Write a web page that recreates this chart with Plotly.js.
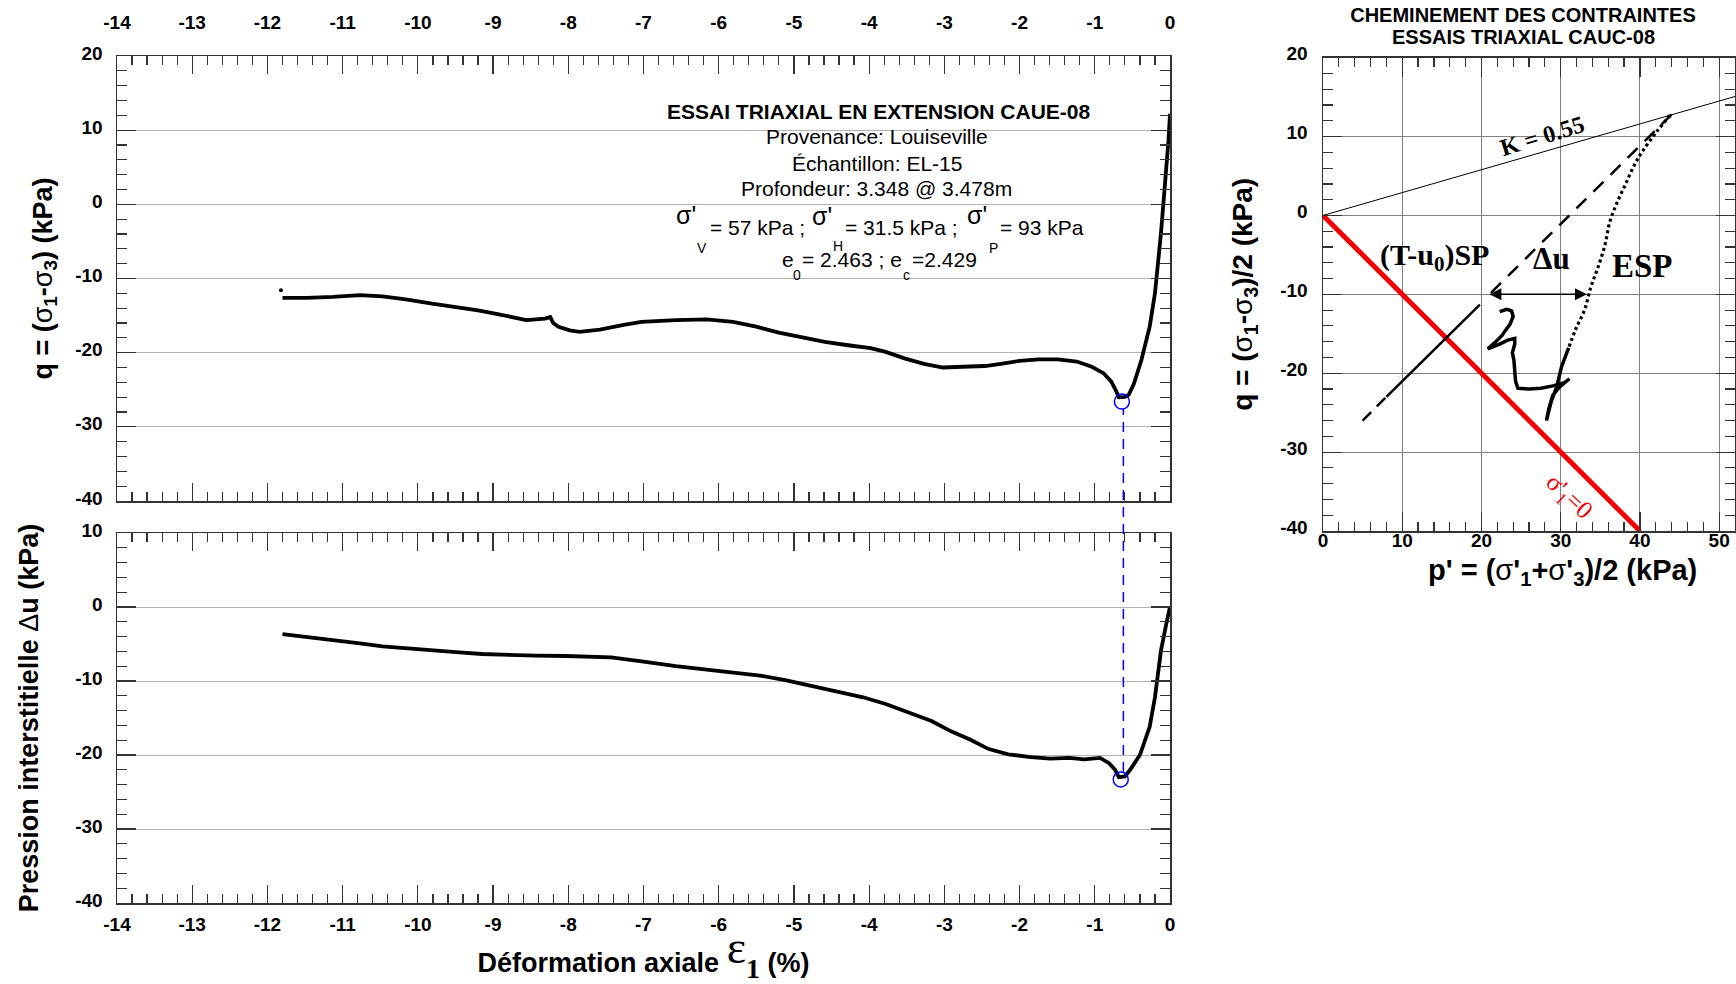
<!DOCTYPE html>
<html><head><meta charset="utf-8">
<script src="https://cdn.plot.ly/plotly-3.0.1.min.js"></script>
<style>html,body{margin:0;padding:0;background:#fff;} #chart{width:1736px;height:984px;}</style>
</head><body><div id="chart"></div>
<script>
// ---------- data ----------
const strainQ = [-11.80,-11.48,-11.13,-10.77,-10.47,-10.16,-9.81,-9.45,-9.20,-8.94,-8.74,-8.56,-8.43,-8.31,-8.24,-8.20,-8.13,-7.98,-7.85,-7.70,-7.58,-7.28,-7.03,-6.57,-6.16,-5.81,-5.50,-5.20,-4.89,-4.59,-4.28,-3.98,-3.78,-3.52,-3.27,-3.02,-2.76,-2.46,-2.25,-2.00,-1.75,-1.49,-1.24,-1.04,-0.88,-0.78,-0.71,-0.68,-0.60,-0.55,-0.48,-0.38,-0.27,-0.20,-0.12,-0.07,-0.02,0.00];
const qValues = [-12.6,-12.6,-12.47,-12.25,-12.4,-12.8,-13.4,-13.9,-14.3,-14.8,-15.26,-15.6,-15.5,-15.4,-15.2,-16.0,-16.5,-17.0,-17.2,-17.1,-16.9,-16.3,-15.84,-15.6,-15.5,-15.84,-16.5,-17.3,-17.96,-18.54,-19.0,-19.4,-19.9,-20.8,-21.5,-22.0,-21.9,-21.8,-21.5,-21.1,-20.9,-20.9,-21.2,-21.9,-22.8,-23.9,-25.3,-26.0,-25.96,-25.7,-24.2,-21.0,-16.5,-12.0,-3.9,1.9,8.65,12.2];
const dotStrain = [-11.82];
const dotQ = [-11.6];

const strainDu = [-11.80,-11.48,-11.13,-10.77,-10.47,-10.16,-9.81,-9.45,-9.15,-8.79,-8.43,-8.03,-7.58,-7.43,-7.00,-6.57,-6.16,-5.81,-5.45,-5.10,-4.79,-4.49,-4.08,-3.78,-3.47,-3.17,-2.91,-2.66,-2.41,-2.15,-1.85,-1.59,-1.34,-1.14,-0.93,-0.81,-0.73,-0.68,-0.60,-0.53,-0.40,-0.27,-0.20,-0.12,-0.05,0.00];
const duValues = [-3.67,-4.03,-4.47,-4.92,-5.32,-5.6,-5.9,-6.13,-6.35,-6.49,-6.58,-6.62,-6.7,-6.8,-7.38,-8.0,-8.46,-8.81,-9.26,-9.93,-10.6,-11.3,-12.2,-13.1,-14.2,-15.4,-16.8,-17.9,-19.2,-19.9,-20.3,-20.5,-20.4,-20.6,-20.4,-21.1,-22.0,-23.0,-22.9,-22.0,-20.0,-16.2,-12.2,-5.9,-2.3,0.0];

const peakStrainQ = [-0.64];
const peakQ = [-26.6];
const peakStrainDu = [-0.655];
const peakDu = [-23.3];
const guideStrain = [-0.62];

// stress path (p', q)
const espDotP = [43.8,42.1,40.3,39.3,38.2,37.1,36.2,35.6,34.7,33.8,33.0,31.9,31.0];
const espDotQ = [12.7,10.6,8.1,6.4,4.0,1.6,-0.8,-3.7,-6.6,-9.1,-12.0,-14.4,-16.8];
const espP = [31.0,30.1,29.5,28.8,28.2,28.5,29.0,29.8,31.1,30.5,29.0,27.5,26.0,24.6,24.3,24.2,24.1,23.9,24.2,24.2,23.3,22.3,20.8,21.8,22.6,23.0,23.6,24.0,23.8,23.2,22.3];
const espQ = [-16.8,-19.2,-21.7,-23.6,-26.0,-24.5,-22.8,-21.8,-20.7,-21.2,-21.6,-21.9,-22.0,-21.9,-21.0,-19.6,-18.4,-17.4,-16.3,-15.6,-15.8,-16.3,-16.9,-16.0,-15.2,-14.6,-13.8,-12.8,-12.1,-11.9,-12.2];
const tspDashP1 = [5.0, 8.0];
const tspDashQ1 = [-26.0, -23.0];
const tspSolidP = [8.0, 19.8];
const tspSolidQ = [-23.0, -11.3];
const tspDashP2 = [21.2, 44.0];
const tspDashQ2 = [-9.8, 12.8];
const k0P = [0, 52.4];
const k0Q = [0, 15.2];
const zeroP = [0, 40];
const zeroQ = [0, -40];
const duArrowP = [21.0, 33.5];
const duArrowQ = [-10, -10];

// ticks
const strainTicks = [-14,-13,-12,-11,-10,-9,-8,-7,-6,-5,-4,-3,-2,-1,0];
const strainTickText = ['-14','-13','-12','-11','-10','-9','-8','-7','-6','-5','-4','-3','-2','-1','0'];
const qTicks = [-40,-30,-20,-10,0,10,20];
const qTickText = ['-40','-30','-20','-10','0','10','20'];
const duTicks = [-40,-30,-20,-10,0,10];
const duTickText = ['-40','-30','-20','-10','0','10'];
const pTicks = [0,10,20,30,40,50];
const pTickText = ['0','10','20','30','40','50'];

// ---------- layout helpers ----------
const W = 1736, H = 984;
const SANS = 'Liberation Sans, Arial, Helvetica, sans-serif';
const SERIF = 'Liberation Serif, Times New Roman, serif';
const tickFont = {family: SANS, size: 19, color: '#000', weight: 'bold'};
const titleFont = {family: SANS, size: 27, color: '#000', weight: 'bold'};
const titleFontR = {family: SANS, size: 28, color: '#000', weight: 'bold'};
const AX = '#333';

const domLeftX = [117/W, 1170/W];
const domTopY = [1-501/H, 1-56/H];
const domBotY = [1-903/H, 1-533/H];
const domRightX = [1323/W, 1735/W];
const domRightY = [1-531/H, 1-57.7/H];

function baseAxis(extra) {
  return Object.assign({
    showline: true, linecolor: AX, linewidth: 1.5, mirror: 'allticks',
    ticks: 'inside', tickcolor: AX, tickwidth: 1.2,
    zeroline: false, tickfont: tickFont, tickmode: 'array', fixedrange: true
  }, extra);
}

const traces = [
  {x: strainQ, y: qValues, xaxis: 'x', yaxis: 'y', mode: 'lines', line: {color: '#000', width: 3.8}, hoverinfo: 'skip'},
  {x: dotStrain, y: dotQ, xaxis: 'x', yaxis: 'y', mode: 'markers', marker: {color: '#000', size: 4}, hoverinfo: 'skip'},
  {x: peakStrainQ, y: peakQ, xaxis: 'x', yaxis: 'y', mode: 'markers', marker: {symbol: 'circle-open', size: 15, color: '#0000ff', line: {width: 1.5, color: '#0000ff'}}, hoverinfo: 'skip'},
  {x: strainDu, y: duValues, xaxis: 'x2', yaxis: 'y2', mode: 'lines', line: {color: '#000', width: 3.8}, hoverinfo: 'skip'},
  {x: peakStrainDu, y: peakDu, xaxis: 'x2', yaxis: 'y2', mode: 'markers', marker: {symbol: 'circle-open', size: 15, color: '#0000ff', line: {width: 1.5, color: '#0000ff'}}, hoverinfo: 'skip'},
  // stress path
  {x: k0P, y: k0Q, xaxis: 'x3', yaxis: 'y3', mode: 'lines', line: {color: '#000', width: 1}, hoverinfo: 'skip'},
  {x: zeroP, y: zeroQ, xaxis: 'x3', yaxis: 'y3', mode: 'lines', line: {color: 'rgb(240,0,0)', width: 5}, hoverinfo: 'skip'},
  {x: tspDashP1, y: tspDashQ1, xaxis: 'x3', yaxis: 'y3', mode: 'lines', line: {color: '#000', width: 2.5, dash: '12px,8px'}, hoverinfo: 'skip'},
  {x: tspSolidP, y: tspSolidQ, xaxis: 'x3', yaxis: 'y3', mode: 'lines', line: {color: '#000', width: 2.5}, hoverinfo: 'skip'},
  {x: tspDashP2, y: tspDashQ2, xaxis: 'x3', yaxis: 'y3', mode: 'lines', line: {color: '#000', width: 2.5, dash: '14px,10px'}, hoverinfo: 'skip'},
  {x: espDotP, y: espDotQ, xaxis: 'x3', yaxis: 'y3', mode: 'lines', line: {color: '#000', width: 3.2, dash: '3px,3px', shape: 'spline'}, hoverinfo: 'skip'},
  {x: espP, y: espQ, xaxis: 'x3', yaxis: 'y3', mode: 'lines', line: {color: '#000', width: 3.5}, hoverinfo: 'skip'}
];

// guide line between the two peaks
const topLen = domTopY[1] - domTopY[0];
const botLen = domBotY[1] - domBotY[0];
const guideTop = domTopY[0] + (peakQ[0] - 1 + 40) / 60 * topLen;
const guideBot = domBotY[0] + (peakDu[0] + 1 + 40) / 50 * botLen;

function txt(x, y, text, size, opts) {
  return Object.assign({x: x, y: y, xref: 'x', yref: 'y', text: text, showarrow: false,
    font: {family: SANS, size: size, color: '#000'}, xanchor: 'center', yanchor: 'middle'}, opts || {});
}

const annotations = [
  txt(-3.87, 12.45, 'ESSAI TRIAXIAL EN EXTENSION CAUE-08', 21, {font: {family: SANS, size: 21, color: '#000', weight: 'bold'}}),
  txt(-3.90, 9.08, 'Provenance: Louiseville', 21),
  txt(-3.90, 5.57, 'Échantillon: EL-15', 21),
  txt(-3.90, 2.20, 'Profondeur: 3.348 @ 3.478m', 21),
  txt(-6.60, -1.44, "σ'", 25, {xanchor: 'left'}),
  txt(-6.14, -3.06, '= 57 kPa ;', 21, {xanchor: 'left'}),
  txt(-4.78, -1.57, "σ'", 25, {xanchor: 'left'}),
  txt(-4.35, -3.06, '= 31.5 kPa ;', 21, {xanchor: 'left'}),
  txt(-2.72, -1.44, "σ'", 25, {xanchor: 'left'}),
  txt(-2.29, -3.06, '= 93 kPa', 21, {xanchor: 'left'}),
  txt(-6.22, -5.95, 'V', 14),
  txt(-4.41, -5.60, 'H', 14),
  txt(-2.35, -5.95, 'P', 14),
  txt(-5.18, -7.50, 'e', 21, {xanchor: 'left'}),
  txt(-4.92, -7.50, '= 2.463 ; e', 21, {xanchor: 'left'}),
  txt(-3.46, -7.50, '=2.429', 21, {xanchor: 'left'}),
  txt(-4.96, -9.53, '0', 14),
  txt(-3.50, -9.53, 'c', 14),
  // second line of the stress-path title
  {x: 1523/W, y: 1 - 37.5/H, xref: 'paper', yref: 'paper', text: 'ESSAIS TRIAXIAL CAUC-08', showarrow: false,
   xanchor: 'center', yanchor: 'middle', font: {family: SANS, size: 20, color: '#000', weight: 'bold'}},
  // x title of the stress-path plot (offset to the right as in the original)
  {x: 1562/W, y: 1 - 572/H, xref: 'paper', yref: 'paper', showarrow: false, xanchor: 'center', yanchor: 'middle',
   text: "p' = (<span style=\"font-weight:normal\">σ</span>'<sub>1</sub>+<span style=\"font-weight:normal\">σ</span>'<sub>3</sub>)/2 (kPa)",
   font: {family: SANS, size: 29, color: '#000', weight: 'bold'}},
  // stress path labels
  {x: 27.7, y: 10.1, xref: 'x3', yref: 'y3', text: 'K = 0.55', showarrow: false, textangle: -17,
   font: {family: SERIF, size: 24, color: '#000', weight: 'bold'}},
  {x: 14.1, y: -5.3, xref: 'x3', yref: 'y3', text: '(T-u<sub>0</sub>)SP', showarrow: false,
   font: {family: SERIF, size: 30, color: '#000', weight: 'bold'}},
  {x: 28.8, y: -5.4, xref: 'x3', yref: 'y3', text: 'Δu', showarrow: false,
   font: {family: SERIF, size: 31, color: '#000', weight: 'bold'}},
  {x: 40.3, y: -6.4, xref: 'x3', yref: 'y3', text: 'ESP', showarrow: false,
   font: {family: SERIF, size: 33, color: '#000', weight: 'bold'}},
  {x: 31.0, y: -35.7, xref: 'x3', yref: 'y3', text: "σ'<sub>1</sub>=0", showarrow: false, textangle: 43,
   font: {family: SERIF, size: 25, color: 'rgb(240,0,0)'}},
  {x: duArrowP[0], y: duArrowQ[0], ax: duArrowP[1], ay: duArrowQ[1], xref: 'x3', yref: 'y3', axref: 'x3', ayref: 'y3',
   text: '', showarrow: true, arrowside: 'end+start', arrowhead: 2, startarrowhead: 2, arrowsize: 1.6, startarrowsize: 1.6,
   arrowwidth: 1.5, arrowcolor: '#000'}
];

const layout = {
  width: W, height: H,
  margin: {l: 0, r: 0, t: 0, b: 0, pad: 0},
  paper_bgcolor: '#fff', plot_bgcolor: 'rgba(0,0,0,0)',
  showlegend: false,
  title: {text: 'CHEMINEMENT DES CONTRAINTES', x: 1523/W, xanchor: 'center',
          xref: 'container', yref: 'container', y: 1 - 14.5/H, yanchor: 'middle',
          font: {family: SANS, size: 20, color: '#000', weight: 'bold'}},
  xaxis: baseAxis({domain: domLeftX, anchor: 'y', range: [-14, 0], side: 'top',
    tickvals: strainTicks, ticktext: strainTickText, ticklen: 18, showgrid: false, ticklabelstandoff: 18,
    minor: {dtick: 0.2, tick0: 0, ticks: 'inside', ticklen: 9, tickcolor: AX, tickwidth: 1.2, showgrid: false}}),
  yaxis: baseAxis({domain: domTopY, anchor: 'x', range: [-40, 20],
    tickvals: qTicks, ticktext: qTickText, ticklen: 19, showgrid: true, gridcolor: '#b4b4b4', gridwidth: 1,
    ticklabelstandoff: 9, ticklabelshift: -3,
    minor: {dtick: 2, tick0: 0, ticks: 'inside', ticklen: 10, tickcolor: AX, tickwidth: 1.2, showgrid: false},
    title: {text: 'q = (<span style="font-weight:normal">σ</span><sub>1</sub>-<span style="font-weight:normal">σ</span><sub>3</sub>) (kPa)', font: titleFont, standoff: 15}}),
  xaxis2: baseAxis({domain: domLeftX, anchor: 'y2', range: [-14, 0], side: 'bottom',
    tickvals: strainTicks, ticktext: strainTickText, ticklen: 18, showgrid: false, ticklabelstandoff: 4,
    minor: {dtick: 0.2, tick0: 0, ticks: 'inside', ticklen: 9, tickcolor: AX, tickwidth: 1.2, showgrid: false},
    title: {text: 'Déformation axiale <span style="font-family:Liberation Serif;font-weight:normal;font-size:46px;baseline-shift:20%">ε</span><sub><span style="font-family:Liberation Serif;font-size:28px">1</span></sub> (%)', font: titleFont, standoff: 4}}),
  yaxis2: baseAxis({domain: domBotY, anchor: 'x2', range: [-40, 10],
    tickvals: duTicks, ticktext: duTickText, ticklen: 19, showgrid: true, gridcolor: '#b4b4b4', gridwidth: 1,
    ticklabelstandoff: 9, ticklabelshift: -3,
    minor: {dtick: 2, tick0: 0, ticks: 'inside', ticklen: 10, tickcolor: AX, tickwidth: 1.2, showgrid: false},
    title: {text: 'Pression interstitielle <span style="font-weight:normal">Δ</span>u (kPa)', font: titleFont, standoff: 29}}),
  xaxis3: baseAxis({domain: domRightX, anchor: 'y3', range: [0, 52.0], side: 'bottom',
    tickvals: pTicks, ticktext: pTickText, ticklen: 19, showgrid: true, gridcolor: '#808080', gridwidth: 1,
    ticklabelstandoff: -8,
    minor: {dtick: 2, tick0: 0, ticks: 'inside', ticklen: 9, tickcolor: AX, tickwidth: 1.2, showgrid: false}}),
  yaxis3: baseAxis({domain: domRightY, anchor: 'x3', range: [-40, 20],
    tickvals: qTicks, ticktext: qTickText, ticklen: 19, showgrid: true, gridcolor: '#808080', gridwidth: 1,
    ticklabelstandoff: 10, ticklabelshift: -4,
    minor: {dtick: 2, tick0: 0, ticks: 'inside', ticklen: 10, tickcolor: AX, tickwidth: 1.2, showgrid: false},
    title: {text: 'q = (<span style="font-weight:normal">σ</span><sub>1</sub>-<span style="font-weight:normal">σ</span><sub>3</sub>)/2 (kPa)', font: titleFontR, standoff: 19}}),
  shapes: [
    {type: 'line', xref: 'x', yref: 'paper', x0: guideStrain[0], x1: guideStrain[0], y0: guideBot, y1: guideTop,
     line: {color: '#0000ff', width: 1.5, dash: '10px,7px'}, layer: 'above'}
  ],
  annotations: annotations
};

Plotly.newPlot('chart', traces, layout, {staticPlot: true, displayModeBar: false});
</script>
</body></html>
